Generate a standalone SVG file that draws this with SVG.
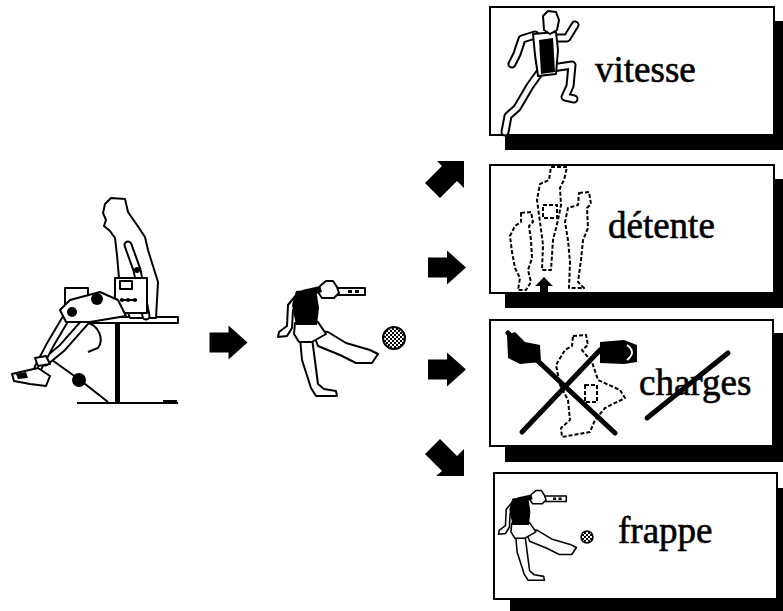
<svg xmlns="http://www.w3.org/2000/svg" xmlns:xlink="http://www.w3.org/1999/xlink" width="783" height="611" viewBox="0 0 783 611">
<style>
.box{fill:#fff;stroke:#000;stroke-width:2}
.shadow{fill:#000}
.lbl{font-family:"Liberation Serif","Times New Roman",serif;font-size:37px;fill:#000;stroke:#000;stroke-width:0.6}
.fig{fill:#fff;stroke:#000;stroke-width:2;stroke-linejoin:round}
.blk{fill:#000}
.limbO{fill:none;stroke:#000;stroke-width:9;stroke-linecap:round;stroke-linejoin:round}
.limbI{fill:none;stroke:#fff;stroke-width:5;stroke-linecap:round;stroke-linejoin:round}
.dash{fill:#fff;stroke:#000;stroke-width:2;stroke-dasharray:4 2;stroke-linejoin:round}
.cross{stroke:#000;stroke-width:5;stroke-linecap:round}
.arrow{fill:#000}
</style>
<defs>
<pattern id="dither" width="4" height="4" patternUnits="userSpaceOnUse">
<rect width="4" height="4" fill="#fff"/>
<rect width="2" height="2" fill="#000"/>
<rect x="2" y="2" width="2" height="2" fill="#000"/>
</pattern>
<path id="rArrow" d="M-19,-10 H0 V-17 L19,0 L0,17 V10 H-19 Z"/>
<g id="kicker">
<path class="fig" d="M300,338 L312,338 L318,384 L324,389 L336,391 L337,396 L316,396 L311,388 L302,360 Z"/>
<path class="fig" d="M312,330 L328,332 L346,343 L370,350 L378,354 L372,363 L356,363 L340,355 L318,346 Z"/>
<path class="fig" d="M295,323 L318,322 L326,334 L312,342 L299,342 L294,334 Z"/>
<path class="fig" d="M297,294 L288,305 L287,326 L279,332 L278,337 L287,336 L292,328 L293,310 L299,302 Z"/>
<path class="blk" d="M296,291 L316,289 L319,308 L317,325 L296,325 L292,305 Z"/>
<rect class="fig" x="331" y="288" width="34" height="7"/>
<path class="blk" d="M348,290 h4 v3 h-4 Z M355,290 h4 v3 h-4 Z"/>
<path class="fig" d="M320,286 L326,281 L333,281 L337,287 L339,293 L334,298 L322,298 L318,292 Z"/>
<path class="blk" d="M302,290 L320,286 L322,292 L310,296 Z"/>
</g>
</defs>

<!-- Node: seated leg-extension figure -->
<g id="node-seated">
<line x1="77" y1="403" x2="178" y2="403" stroke="#000" stroke-width="2"/>
<rect class="blk" x="163" y="400" width="14" height="4"/>
<rect class="blk" x="115" y="322" width="5" height="81"/>
<rect class="fig" x="90" y="317" width="88" height="6"/>
<path fill="none" stroke="#000" stroke-width="2" d="M85,322 C100,325 104,340 98,348 L88,352"/>
<path class="fig" d="M103,213 L105,204 L111,198 L125,199 L128,212 L137,225 L145,237 L148,250 L153,266 L158,282 L156,318 L130,318 L120,290 L117,255 L115,238 L110,231 L104,226 L106,220 Z"/>
<path class="limbO" d="M128,245 L137,270 L146,316"/>
<path class="limbI" d="M128,245 L137,270 L146,316"/>
<circle class="blk" cx="137" cy="270" r="3"/>
<rect class="fig" x="115" y="278" width="32" height="35"/>
<rect class="fig" x="120" y="281" width="12" height="8"/>
<line x1="120" y1="300" x2="137" y2="300" stroke="#000" stroke-width="2"/>
<circle class="blk" cx="122" cy="300" r="2"/><circle class="blk" cx="128" cy="300" r="2"/><circle class="blk" cx="135" cy="300" r="2"/>
<rect class="fig" x="65" y="288" width="23" height="19"/>
<path class="limbO" d="M85,322 L62,348 L45,362"/>
<path class="limbI" d="M85,322 L62,348 L45,362"/>
<path class="limbO" d="M66,318 L50,345 L38,368"/>
<path class="limbI" d="M66,318 L50,345 L38,368"/>
<path class="fig" d="M60,310 L70,300 L100,292 L118,300 L126,316 L90,322 L66,322 Z"/>
<circle class="blk" cx="97" cy="299" r="6"/>
<circle class="blk" cx="72" cy="312" r="5"/>
<path class="fig" d="M12,374 L38,368 L50,376 L46,386 L30,384 L14,381 Z"/>
<path class="blk" d="M16,374 L26,372 L28,378 L18,379 Z"/>
<path class="fig" d="M35,358 L46,356 L50,364 L38,366 Z"/>
<path fill="none" stroke="#000" stroke-width="2" d="M52,360 L80,380 L108,402"/>
<circle class="blk" cx="79" cy="380" r="7"/>
</g>

<!-- Node: central kicker -->
<g id="node-kick">
<use xlink:href="#kicker"/>
<circle cx="394" cy="338" r="11" fill="url(#dither)" stroke="#000" stroke-width="2"/>
</g>

<!-- Node: vitesse -->
<g id="node-vitesse">
<rect class="shadow" x="505" y="21" width="284" height="129"/>
<rect class="box" x="490" y="7" width="284" height="128"/>
<path class="limbO" d="M540,72 L530,86 L517,108 L508,116 L505,132"/>
<path class="limbI" d="M540,72 L530,86 L517,108 L508,116 L505,132"/>
<path class="limbO" d="M552,68 L572,65 L570,86 L565,97 L574,99"/>
<path class="limbI" d="M552,68 L572,65 L570,86 L565,97 L574,99"/>
<path class="limbO" d="M535,35 L522,39 L517,54 L512,64"/>
<path class="limbI" d="M535,35 L522,39 L517,54 L512,64"/>
<path class="limbO" d="M552,38 L567,38 L575,25"/>
<path class="limbI" d="M552,38 L567,38 L575,25"/>
<path class="fig" d="M533,34 L556,32 L558,50 L556,74 L538,76 L535,55 Z"/>
<path class="blk" d="M539,40 L553,38 L555,72 L541,74 Z"/>
<path class="fig" d="M543,16 L548,11 L556,12 L559,20 L557,30 L550,34 L544,30 Z"/>
<text class="lbl" x="595" y="82">vitesse</text>
</g>

<!-- Node: détente -->
<g id="node-detente">
<rect class="shadow" x="505" y="179" width="284" height="129"/>
<rect class="box" x="490" y="165" width="284" height="128"/>
<path class="dash" d="M521,213 L531,212 L533,222 L529,226 L531,240 L532,258 L528,270 L531,282 L526,290 L518,290 L520,278 L515,268 L512,252 L510,236 L515,226 L521,222 Z"/>
<path class="dash" d="M551,167 L567,167 L564,180 L560,188 L561,205 L558,220 L553,240 L551,270 L542,270 L543,245 L540,222 L537,200 L540,184 L549,180 Z"/>
<rect class="dash" x="543" y="205" width="14" height="13"/>
<path class="dash" d="M579,193 L589,192 L591,204 L587,208 L588,228 L583,240 L581,260 L578,282 L584,288 L569,288 L570,262 L568,240 L565,222 L568,208 L578,205 Z"/>
<path class="blk" d="M544,277 L553,286 L548,286 L548,292 L540,292 L540,286 L535,286 Z"/>
<text class="lbl" x="608" y="238">détente</text>
</g>

<!-- Node: charges -->
<g id="node-charges">
<rect class="shadow" x="505" y="333" width="284" height="129"/>
<rect class="box" x="490" y="320" width="283" height="126"/>
<path class="dash" d="M573,336 L586,335 L588,345 L582,350 L592,362 L598,380 L620,390 L625,398 L605,408 L595,420 L590,432 L562,437 L561,428 L570,420 L568,400 L560,385 L556,365 L565,350 L572,346 Z"/>
<path class="dash" d="M585,385 L597,385 L597,402 L585,402 Z"/>
<path class="blk" d="M507,335 L515,332 L525,342 L540,345 L541,362 L520,364 L508,358 Z"/>
<path class="blk" d="M600,342 L624,340 L637,345 L637,362 L624,364 L600,363 Z"/>
<path fill="none" stroke="#fff" stroke-width="2" d="M627,345 Q637,352 627,360"/>
<line class="cross" x1="508" y1="333" x2="615" y2="433"/>
<line class="cross" x1="522" y1="432" x2="600" y2="350"/>
<text class="lbl" x="639" y="395">charges</text>
<line class="cross" x1="647" y1="418" x2="728" y2="353"/>
</g>

<!-- Node: frappe -->
<g id="node-frappe">
<rect class="shadow" x="510" y="488" width="284" height="130"/>
<rect class="box" x="494" y="473" width="283" height="126"/>
<use xlink:href="#kicker" transform="translate(281.6,271.4) scale(0.78)"/>
<circle cx="587" cy="537" r="6" fill="url(#dither)" stroke="#000" stroke-width="1.5"/>
<text class="lbl" x="618" y="543">frappe</text>
</g>

<!-- Connectors -->
<g id="connectors">
<use xlink:href="#rArrow" class="arrow" transform="translate(228.5,342.5)"/>
<path class="arrow" d="M437,161 H464 V188 L457,181 L440,198 L425,183 L442,166 Z"/>
<use xlink:href="#rArrow" class="arrow" transform="translate(447,267.5)"/>
<use xlink:href="#rArrow" class="arrow" transform="translate(447,369.5)"/>
<path class="arrow" d="M436,476 H464 V449 L457,456 L440,439 L425,454 L442,471 Z"/>
</g>
</svg>
